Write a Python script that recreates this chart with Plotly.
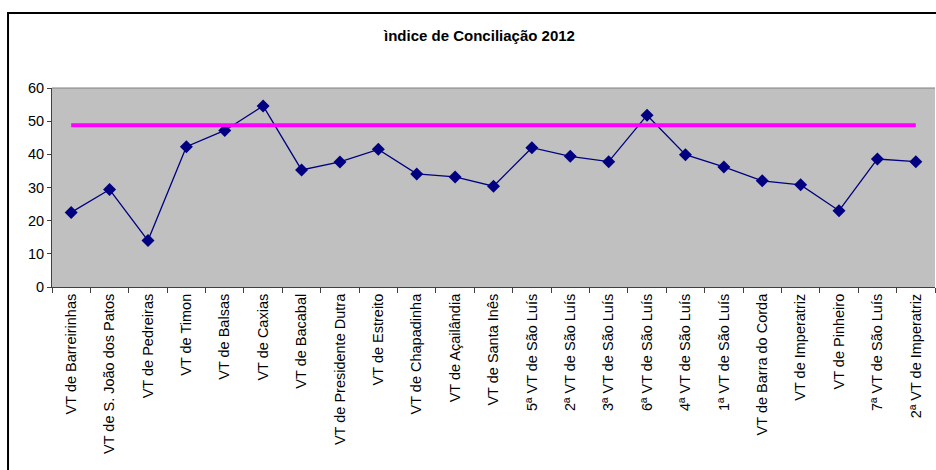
import plotly.graph_objects as go

# Varas do Trabalho (ordem do gráfico original)
varas = [
    "VT de Barreirinhas",
    "VT de S. João dos Patos",
    "VT de Pedreiras",
    "VT de Timon",
    "VT de Balsas",
    "VT de Caxias",
    "VT de Bacabal",
    "VT de Presidente Dutra",
    "VT de Estreito",
    "VT de Chapadinha",
    "VT de Açailândia",
    "VT de Santa Inês",
    "5ª VT de São Luís",
    "2ª VT de São Luís",
    "3ª VT de São Luís",
    "6ª VT de São Luís",
    "4ª VT de São Luís",
    "1ª VT de São Luís",
    "VT de Barra do Corda",
    "VT de Imperatriz",
    "VT de Pinheiro",
    "7ª VT de São Luís",
    "2ª VT de Imperatriz",
]

# Índice de conciliação por vara (%)
indice = [
    22.5, 29.4, 14.0, 42.3, 47.2, 54.6, 35.3, 37.7, 41.5, 34.1, 33.2, 30.4,
    42.0, 39.4, 37.8, 51.8, 39.9, 36.2, 32.0, 30.8, 23.0, 38.6, 37.8,
]

# Média regional (linha de referência)
media = [48.8] * len(varas)

y_ticks = [0, 10, 20, 30, 40, 50, 60]

FONT = "Liberation Sans, Arial, sans-serif"

fig = go.Figure()
fig.add_trace(
    go.Scatter(
        x=varas,
        y=indice,
        mode="lines+markers",
        line=dict(color="#000080", width=1.3),
        marker=dict(symbol="diamond", size=10, color="#000080"),
        showlegend=False,
    )
)
fig.add_trace(
    go.Scatter(
        x=varas,
        y=media,
        mode="lines",
        line=dict(color="#FF00FF", width=4),
        showlegend=False,
    )
)

fig.update_layout(
    width=936,
    height=470,
    margin=dict(l=52, r=1, t=88, b=183),
    paper_bgcolor="white",
    plot_bgcolor="#C0C0C0",
    font=dict(family=FONT, size=14.5, color="black"),
    title=dict(
        text="<b>ìndice de Conciliação 2012</b>",
        x=479.5 / 936,
        xanchor="center",
        y=1 - 36 / 470,
        yanchor="middle",
        yref="container",
        font=dict(family=FONT, size=15, color="black"),
    ),
    xaxis=dict(
        type="category",
        tickangle=-90,
        ticks="outside",
        tickson="boundaries",
        ticklen=5,
        tickcolor="#404040",
        showline=True,
        linecolor="#404040",
        linewidth=1,
        showgrid=False,
        tickfont=dict(family=FONT, size=14.5),
        range=[-0.5, len(varas) - 0.5],
    ),
    yaxis=dict(
        range=[0, 60],
        tickvals=y_ticks,
        ticks="outside",
        ticklen=4,
        tickcolor="#404040",
        showline=True,
        linecolor="#404040",
        linewidth=1,
        showgrid=False,
        zeroline=False,
        tickfont=dict(family=FONT, size=14.5),
    ),
    shapes=[
        # borda superior da área de plotagem
        dict(type="line", xref="paper", yref="paper", x0=0, x1=1, y0=1, y1=1,
             line=dict(color="#808080", width=1)),
        # moldura externa do gráfico
        dict(type="rect", xref="paper", yref="paper",
             x0=-0.0498, x1=1.02, y0=-0.96, y1=1.377,
             line=dict(color="black", width=2)),
    ],
)

# a página não deve deslocar o gráfico com a margem padrão do <body>
fig.write_html(
    "out.html",
    config={"displayModeBar": False},
    post_script="document.body.style.margin = '0';",
)
